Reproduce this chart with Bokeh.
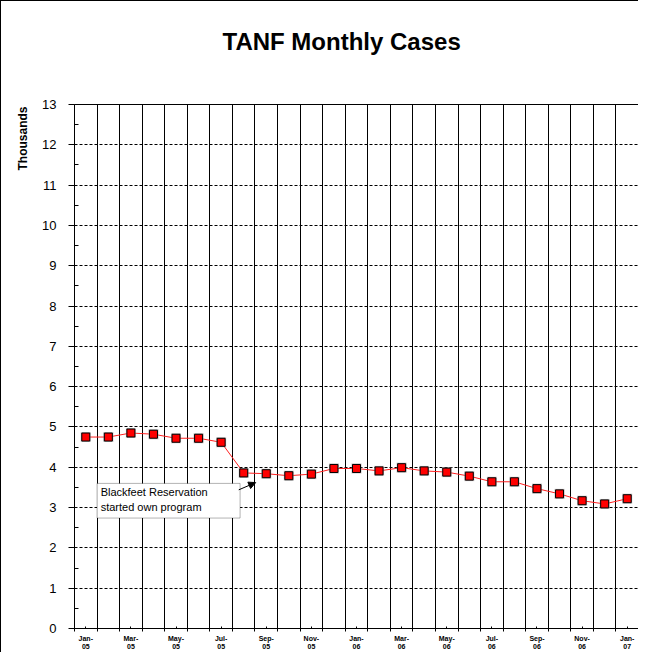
import math
from bokeh.plotting import figure
from bokeh.models import Range1d, FixedTicker, Label, BoxAnnotation, Arrow, NormalHead, Title
from bokeh.embed import file_html
from bokeh.resources import INLINE

months = ["Jan-05", "Feb-05", "Mar-05", "Apr-05", "May-05", "Jun-05", "Jul-05",
          "Aug-05", "Sep-05", "Oct-05", "Nov-05", "Dec-05", "Jan-06", "Feb-06",
          "Mar-06", "Apr-06", "May-06", "Jun-06", "Jul-06", "Aug-06", "Sep-06",
          "Oct-06", "Nov-06", "Dec-06", "Jan-07"]
cases_thousands = [4.75, 4.75, 4.85, 4.82, 4.72, 4.72, 4.62, 3.86, 3.84, 3.79,
                   3.83, 3.97, 3.97, 3.91, 3.99, 3.91, 3.88, 3.78, 3.64, 3.64,
                   3.47, 3.34, 3.17, 3.09, 3.22]
y_ticks = list(range(0, 14))

FONT = "Liberation Sans"
n = len(months)
x_idx = list(range(n))

p = figure(width=638, height=652, output_backend="svg", toolbar_location=None,
           x_range=Range1d(-0.5, n - 0.5), y_range=Range1d(0, 13),
           min_border_left=73, min_border_top=103, min_border_bottom=25,
           min_border_right=1)
p.styles = {"border-left": "1px solid black", "border-top": "1px solid black"}
p.background_fill_color = "white"
p.border_fill_color = "white"
p.outline_line_color = "black"
p.outline_line_width = 1

# title (outermost) with a spacer panel between it and the plot frame
p.title.text = "TANF Monthly Cases"
p.title.align = "left"
p.title.text_font = FONT
p.title.text_font_size = "24px"
p.title.text_font_style = "bold"
p.title.text_color = "black"
p.title.standoff = 4
p.title.offset = 148
p.add_layout(Title(text=" ", text_font_size="2px", standoff=44), "above")

# x axis
p.xaxis.ticker = FixedTicker(ticks=[i for i in x_idx if i % 2 == 0],
                             minor_ticks=[i - 0.5 for i in range(n + 1)])
p.xaxis.major_label_overrides = {i: m.replace("-", "-\n") for i, m in enumerate(months) if i % 2 == 0}
p.xaxis.major_label_text_font = FONT
p.xaxis.major_label_text_font_size = "7px"
p.xaxis.major_label_text_font_style = "bold"
p.xaxis.major_label_text_color = "black"
p.xaxis.major_label_standoff = 3
p.xaxis.major_tick_in = 2
p.xaxis.major_tick_out = 0
p.xaxis.minor_tick_in = 0
p.xaxis.minor_tick_out = 3
p.xaxis.axis_line_color = "black"
p.xaxis.major_tick_line_color = "black"
p.xaxis.minor_tick_line_color = "black"

# y axis
p.yaxis.ticker = FixedTicker(ticks=y_ticks, minor_ticks=[t + 0.5 for t in y_ticks[:-1]])
p.yaxis.major_label_text_font = FONT
p.yaxis.major_label_text_font_size = "13px"
p.yaxis.major_label_text_color = "black"
p.yaxis.major_label_standoff = 12
p.yaxis.major_tick_in = 0
p.yaxis.major_tick_out = 6
p.yaxis.minor_tick_in = 4
p.yaxis.minor_tick_out = 0
p.yaxis.axis_line_color = "black"
p.yaxis.major_tick_line_color = "black"
p.yaxis.minor_tick_line_color = "black"

# y axis title placed at the top of the left side
p.add_layout(Title(text="Thousands", align="right", text_font=FONT,
                   text_font_size="12px", text_font_style="bold",
                   text_color="black", standoff=19, offset=2), "left")

# grids
p.xgrid.ticker = FixedTicker(ticks=[i + 0.5 for i in range(n - 1)])
p.xgrid.grid_line_color = "black"
p.xgrid.grid_line_width = 1
p.ygrid.ticker = FixedTicker(ticks=y_ticks[1:])
p.ygrid.grid_line_color = "black"
p.ygrid.grid_line_dash = "3 2"
p.ygrid.grid_line_width = 1

# data
p.line(x_idx, cases_thousands, line_color="#ff2020", line_width=1)
p.scatter(x_idx, cases_thousands, marker="square", size=10, fill_color="#888888",
          fill_alpha=0.5, line_color=None)
p.scatter(x_idx, cases_thousands, marker="square", size=8, fill_color="#ff0000",
          line_color="black", line_width=1)

# annotation box
p.add_layout(BoxAnnotation(left=0.5, right=6.84, bottom=2.74, top=3.60,
                           fill_color="white", fill_alpha=1.0,
                           line_color="black", line_width=1))
p.add_layout(Label(x=0.66, y=3.53, text="Blackfeet Reservation\nstarted own program",
                   text_font=FONT, text_font_size="11px", text_color="black",
                   text_align="left", text_baseline="top"))
p.add_layout(Arrow(end=NormalHead(size=7, fill_color="black", line_color="black"),
                   x_start=6.78, y_start=3.44, x_end=7.53, y_end=3.62,
                   line_color="black", line_width=1))

open("out.html", "w").write(file_html(p, INLINE))
